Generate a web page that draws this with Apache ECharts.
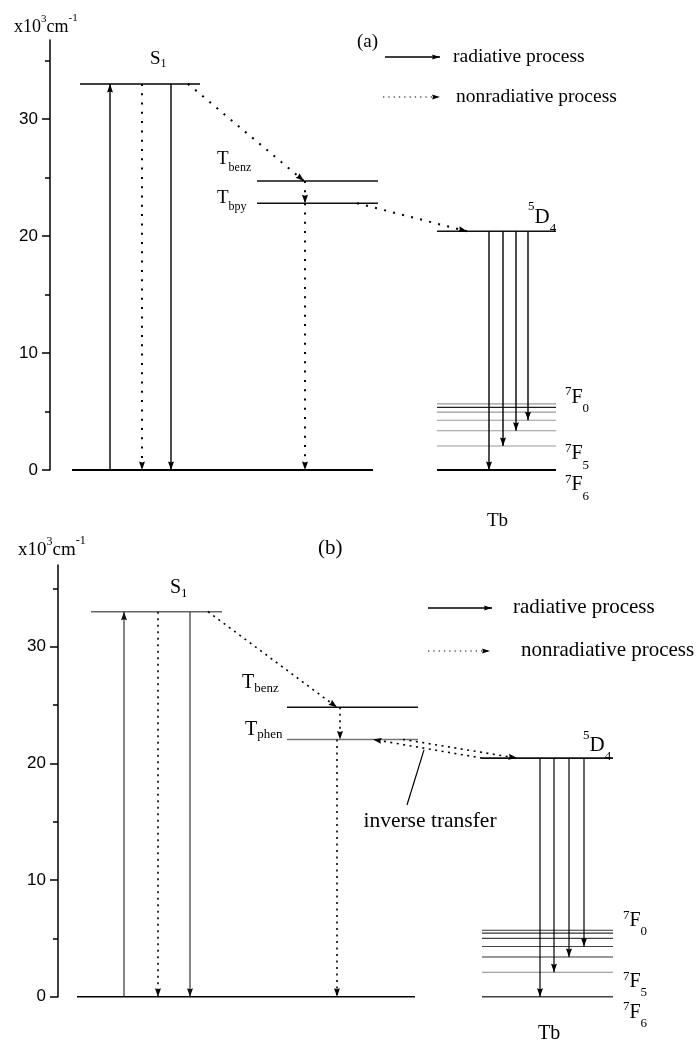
<!DOCTYPE html>
<html><head><meta charset="utf-8">
<script src="https://cdn.jsdelivr.net/npm/echarts@6/dist/echarts.min.js"></script>
<style>html,body{margin:0;padding:0;background:#fff}#c{width:700px;height:1042px}</style>
</head><body><div id="c"></div>
<script>
// ---------------- DATA (energies in x10^3 cm^-1) ----------------
const levelNamesA = ['S1', 'Tbenz', 'Tbpy', '5D4'];
const levelEnergiesA = [33.0, 24.7, 22.8, 20.4];
const terbiumFA = [5.65, 5.35, 4.95, 4.25, 3.35, 2.05, 0];   // 7F0 ... 7F6
const levelNamesB = ['S1', 'Tbenz', 'Tphen', '5D4'];
const levelEnergiesB = [33.0, 24.8, 22.05, 20.45];
const terbiumFB = [5.7, 5.45, 5.0, 4.3, 3.4, 2.1, 0];        // 7F0 ... 7F6
const groundEnergy = 0;
const yTickValues = [0, 10, 20, 30];
const yMinorTickValues = [5, 15, 25, 35];
const legendTexts = ['radiative process', 'nonradiative process'];
const panelTags = ['(a)', '(b)'];
const inverseLabel = 'inverse transfer';

// ---------------- LAYOUT (horizontal columns, px from y axis) ----------------
const L = [
  { grid: {left: 50, top: 40, width: 650, height: 430}, yMax: 36.75,
    s1: [30, 150], ground: [22, 323], trip: [207, 328], tb: [387, 506],
    up: 60, dotS: 92, down: 121, diag1: [138, 254], tv1: 255, tv2: 255, diag2: [307, 417],
    tbArrows: [439, 453, 466, 478],
    dash: [2, 7.3], dashW: 2, solidW: 1.4, font: 19, sub: 12 },
  { grid: {left: 58, top: 565, width: 642, height: 431.7}, yMax: 37.0,
    s1: [33, 164], ground: [19, 357], trip: [229, 360], tb: [424, 555],
    up: 66, dotS: 100, down: 132, diag1: [150, 279], tv1: 282, tv2: 279,
    invFwd: [345, 459], invBack: [424, 315], leader: [[366, 21.15], [349, 16.43]],
    tbArrows: [482, 496, 511, 526],
    dash: [2, 4.5], dashW: 1.6, solidW: 1.2, font: 20, sub: 13 }
];

function buildSegments(p, E, F) {
  const lay = L[p];
  const segs = [];
  const lvl = (x, e, color, w) => segs.push({x1: x[0], y1: e, x2: x[1], y2: e, color, w});
  const arr = (x1, y1, x2, y2, dotted, color) => segs.push({x1, y1, x2, y2, arrow: true,
     dash: dotted ? lay.dash : null, w: dotted ? lay.dashW : lay.solidW, color: color || '#000'});
  const A = p === 0;
  // levels
  lvl(lay.s1, E[0], A ? '#000' : '#666', 1.5);
  lvl(lay.ground, groundEnergy, '#000', A ? 2 : 1.6);
  lvl(lay.trip, E[1], '#111', 1.5);
  lvl(lay.trip, E[2], A ? '#111' : '#777', 1.5);
  lvl(lay.tb, E[3], '#111', 1.6);
  const fColA = ['#999', '#222', '#999', '#999', '#999', '#999', '#000'];
  const fColB = ['#333', '#333', '#444', '#444', '#333', '#888', '#444'];
  F.forEach((e, i) => lvl(lay.tb, e, (A ? fColA : fColB)[i], i === 6 ? (A ? 2 : 1.6) : 1.1));
  // transitions
  arr(lay.up, groundEnergy, lay.up, E[0], false, A ? '#000' : '#333');
  arr(lay.dotS, E[0], lay.dotS, groundEnergy, true);
  arr(lay.down, E[0], lay.down, groundEnergy, false, A ? '#000' : '#333');
  arr(lay.diag1[0], E[0], lay.diag1[1], E[1], true);
  arr(lay.tv1, E[1], lay.tv1, E[2], true);
  arr(lay.tv2, E[2], lay.tv2, groundEnergy, true);
  if (A) {
    arr(lay.diag2[0], E[2], lay.diag2[1], E[3], true);
  } else {
    arr(lay.invFwd[0], E[2], lay.invFwd[1], E[3], true);
    arr(lay.invBack[0], E[3], lay.invBack[1], E[2], true);
    segs.push({x1: lay.leader[0][0], y1: lay.leader[0][1], x2: lay.leader[1][0], y2: lay.leader[1][1], color: '#000', w: 1.2});
  }
  // 5D4 -> 7F6, 7F5, 7F4, 7F3
  [6, 5, 4, 3].forEach((fi, k) => arr(lay.tbArrows[k], E[3], lay.tbArrows[k], F[fi], false, '#000'));
  return segs;
}

function arrowHead(p1, p2, color, len, hw) {
  const dx = p2[0] - p1[0], dy = p2[1] - p1[1];
  const d = Math.sqrt(dx * dx + dy * dy) || 1;
  const ux = dx / d, uy = dy / d, nx = -uy, ny = ux;
  const t = p2;
  return {type: 'polygon', shape: {points: [
    [t[0], t[1]],
    [t[0] - ux * len + nx * hw, t[1] - uy * len + ny * hw],
    [t[0] - ux * (len - 1), t[1] - uy * (len - 1)],
    [t[0] - ux * len - nx * hw, t[1] - uy * len - ny * hw]]},
    style: {fill: color, stroke: null}};
}

const segsA = buildSegments(0, levelEnergiesA, terbiumFA);
const segsB = buildSegments(1, levelEnergiesB, terbiumFB);

function makeSeries(segs, xi, yi) {
  return {
    type: 'custom', xAxisIndex: xi, yAxisIndex: yi, clip: false, silent: true,
    encode: {x: [0, 2], y: [1, 3]},
    data: segs.map(s => [s.x1, s.y1, s.x2, s.y2]),
    renderItem: function (params, api) {
      const s = segs[params.dataIndex];
      const p1 = api.coord([s.x1, s.y1]);
      const p2 = api.coord([s.x2, s.y2]);
      const ch = [{type: 'line', shape: {x1: p1[0], y1: p1[1], x2: p2[0], y2: p2[1]},
        style: {stroke: s.color, lineWidth: s.w, lineDash: s.dash || null, fill: null}}];
      if (s.arrow) ch.push(arrowHead(p1, p2, s.color === '#333' ? '#111' : s.color, 8.5, 3));
      return {type: 'group', children: ch};
    }
  };
}

function yAxes(gi, yMax) {
  const common = {gridIndex: gi, type: 'value', min: 0, max: yMax, position: 'left',
    splitLine: {show: false}};
  return [
    Object.assign({}, common, {
      axisLine: {show: true, onZero: false, lineStyle: {color: '#000', width: 1.5}},
      axisTick: {show: true, inside: false, length: 8, customValues: yTickValues, lineStyle: {color: '#000', width: 1.5}},
      axisLabel: {show: true, customValues: yTickValues, margin: 12, color: '#000',
        fontFamily: 'Liberation Sans', fontSize: 17}
    }),
    Object.assign({}, common, {
      axisLine: {show: false, onZero: false},
      axisTick: {show: true, inside: false, length: 5, customValues: yMinorTickValues, lineStyle: {color: '#000', width: 1.5}},
      axisLabel: {show: false}
    })
  ];
}

const chart = echarts.init(document.getElementById('c'), null, {renderer: 'canvas'});
chart.setOption({
  backgroundColor: '#fff',
  animation: false,
  grid: [L[0].grid, L[1].grid],
  xAxis: [
    {gridIndex: 0, type: 'value', min: 0, max: L[0].grid.width, show: false},
    {gridIndex: 1, type: 'value', min: 0, max: L[1].grid.width, show: false}
  ],
  yAxis: yAxes(0, L[0].yMax).concat(yAxes(1, L[1].yMax)),
  series: [makeSeries(segsA, 0, 0), makeSeries(segsB, 1, 2)]
});

// ---------------- TEXT ----------------
const SERIF = '"Liberation Serif", "Times New Roman", serif';
const mctx = document.createElement('canvas').getContext('2d');
function tw(t, size) { mctx.font = size + 'px ' + SERIF; return mctx.measureText(t).width; }
function textEl(t, x, baseline, size, align) {
  return {type: 'text', x: x, y: baseline - size * 0.3, silent: true,
    style: {text: t, font: size + 'px ' + SERIF, fill: '#000', align: align || 'left', verticalAlign: 'middle'}};
}
function rich(x, baseline, parts) {
  let cx = x; const out = [];
  parts.forEach(pt => {
    out.push(textEl(pt.t, cx, baseline + (pt.dy || 0), pt.s));
    cx += tw(pt.t, pt.s) + (pt.gap || 0);
  });
  return out;
}
function px(p, x, e) { return chart.convertToPixel({xAxisIndex: p, yAxisIndex: p * 2}, [x, e]); }
function anchored(p, x, e, dy, parts) { const q = px(p, x, e); return rich(q[0], q[1] + dy, parts); }

let g = [];
// panel (a)
{
  const f = L[0].font, s = L[0].sub, E = levelEnergiesA, F = terbiumFA;
  g = g.concat(rich(14, 33, [{t: 'x10', s: 18}, {t: '3', s: 11, dy: -11}, {t: 'cm', s: 18}, {t: '-1', s: 11, dy: -12}]));
  g.push(textEl(panelTags[0], 357, 48, 19));
  g = g.concat(anchored(0, 100, E[0], -19, [{t: 'S', s: f}, {t: '1', s: s, dy: 3}]));
  g = g.concat(anchored(0, 167, E[1], -16, [{t: 'T', s: f}, {t: 'benz', s: s, dy: 6}]));
  g = g.concat(anchored(0, 167, E[2], 0, [{t: 'T', s: f}, {t: 'bpy', s: s, dy: 7}]));
  g = g.concat(anchored(0, 478, E[3], -8, [{t: '5', s: 13, dy: -13}, {t: 'D', s: 21}, {t: '4', s: 13, dy: 9}]));
  g = g.concat(anchored(0, 515, F[0], 0, [{t: '7', s: 13, dy: -8}, {t: 'F', s: 20}, {t: '0', s: 13, dy: 9}]));
  g = g.concat(anchored(0, 515, F[5], 14, [{t: '7', s: 13, dy: -8}, {t: 'F', s: 20}, {t: '5', s: 13, dy: 9}]));
  g = g.concat(anchored(0, 515, F[6], 21, [{t: '7', s: 13, dy: -8}, {t: 'F', s: 20}, {t: '6', s: 13, dy: 9}]));
  g = g.concat(anchored(0, 437, groundEnergy, 57, [{t: 'Tb', s: 19}]));
}
// panel (b)
{
  const f = L[1].font, s = L[1].sub, E = levelEnergiesB, F = terbiumFB;
  g = g.concat(rich(18, 556, [{t: 'x10', s: 19}, {t: '3', s: 12, dy: -11}, {t: 'cm', s: 19}, {t: '-1', s: 12, dy: -12}]));
  g.push(textEl(panelTags[1], 318, 555, 21));
  g = g.concat(anchored(1, 112, E[0], -18, [{t: 'S', s: f}, {t: '1', s: s, dy: 4}]));
  g = g.concat(anchored(1, 184, E[1], -19, [{t: 'T', s: f}, {t: 'benz', s: s, dy: 4}]));
  g = g.concat(anchored(1, 187, E[2], -4, [{t: 'T', s: f}, {t: 'phen', s: s, dy: 3}]));
  g = g.concat(anchored(1, 525, E[3], -6, [{t: '5', s: 13, dy: -13}, {t: 'D', s: 21}, {t: '4', s: 13, dy: 8}]));
  g = g.concat(anchored(1, 565, F[0], -3, [{t: '7', s: 13, dy: -8}, {t: 'F', s: 20}, {t: '0', s: 13, dy: 8}]));
  g = g.concat(anchored(1, 565, F[5], 16, [{t: '7', s: 13, dy: -8}, {t: 'F', s: 20}, {t: '5', s: 13, dy: 8}]));
  g = g.concat(anchored(1, 565, F[6], 22, [{t: '7', s: 13, dy: -8}, {t: 'F', s: 20}, {t: '6', s: 13, dy: 9}]));
  g = g.concat(anchored(1, 480, groundEnergy, 43, [{t: 'Tb', s: 20}]));
  const lq = px(1, L[1].leader[1][0], L[1].leader[1][1]);
  g.push(textEl(inverseLabel, lq[0] + 23, lq[1] + 23, 21.5, 'center'));
}
// legends
function legendArrow(x1, x2, y, dotted, dash) {
  return [{type: 'line', silent: true, shape: {x1: x1, y1: y, x2: x2, y2: y},
      style: {stroke: '#000', lineWidth: dotted ? 1.2 : 1.4, lineDash: dotted ? dash : null}},
    arrowHead([x1, y], [x2, y], '#000', 8, 2.6)];
}
g = g.concat(legendArrow(385, 440, 57, false));
g.push(textEl(legendTexts[0], 453, 63, 19.5));
g = g.concat(legendArrow(383, 440, 97, true, [1.3, 4]));
g.push(textEl(legendTexts[1], 456, 103, 19.5));
g = g.concat(legendArrow(428, 492, 608, false));
g.push(textEl(legendTexts[0], 513, 614, 21));
g = g.concat(legendArrow(428, 490, 651, true, [1.3, 4]));
g.push(textEl(legendTexts[1], 521, 657, 21));

chart.setOption({graphic: {elements: g}});
</script></body></html>
